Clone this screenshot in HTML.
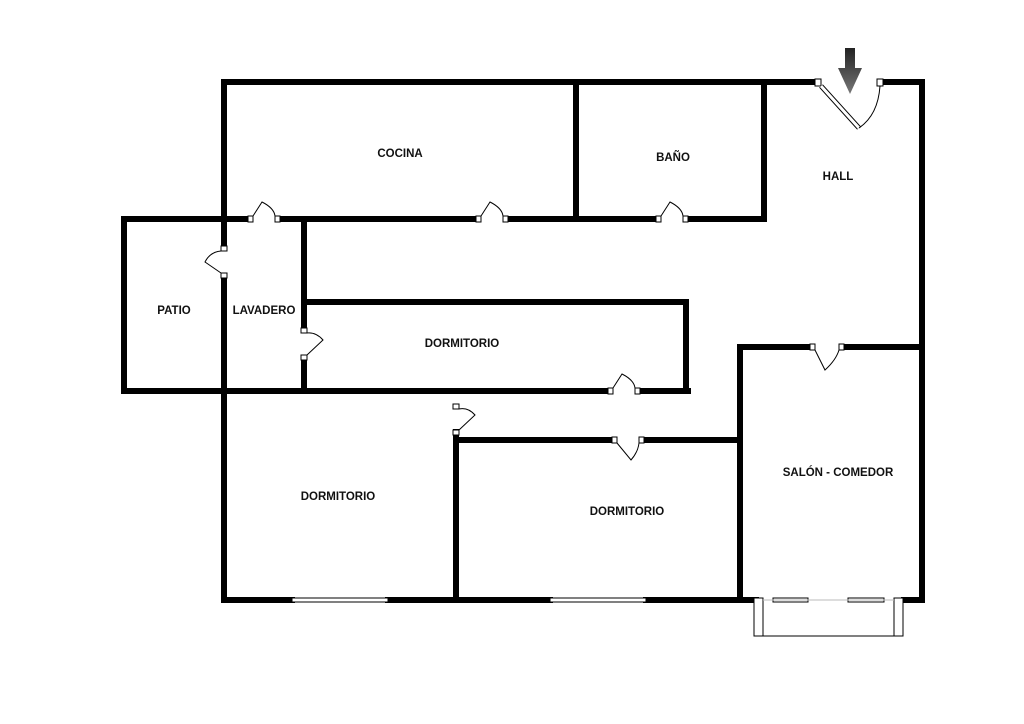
<!DOCTYPE html>
<html><head><meta charset="utf-8"><style>
html,body{margin:0;padding:0;background:#fff;}
svg{display:block}
text{font-family:"Liberation Sans",sans-serif;font-size:11.5px;font-weight:bold;fill:#111;text-anchor:middle}
</style></head><body>
<svg width="1024" height="724" viewBox="0 0 1024 724" xmlns="http://www.w3.org/2000/svg">
<g stroke="#000" stroke-width="6" fill="none" stroke-linecap="square">
<path d="M224 82 H818 M880 82 H922 V600"/>
<path d="M224 82 V248 M224 276 V600"/>
<path d="M576 82 V218 M764 82 V219"/>
<path d="M124 219 H250 M278 219 H478 M506 219 H658 M686 219 H764"/>
<path d="M124 219 V391"/>
<path d="M124 391 H608 M638 391 H688"/>
<path d="M304 219 V330 M304 358 V391"/>
<path d="M304 302 H686 V391"/>
<path d="M740 347 H812 M842 347 H922"/>
<path d="M740 347 V600"/>
<path d="M458 440 H614 M642 440 H740"/>
<path d="M456 432 V600"/>
<path d="M224 600 H292 M388 600 H550 M646 600 H756 M904 600 H922"/>
</g>
<g stroke="#000" stroke-width="1" fill="#fff">
<rect x="292" y="598" width="96" height="4"/>
<rect x="550" y="598" width="96" height="4"/>
<rect x="754" y="598" width="9" height="38"/>
<rect x="894" y="598" width="9" height="38"/>
<line x1="763" y1="636" x2="894" y2="636"/>
<rect x="773" y="598" width="35" height="4"/>
<rect x="848" y="598" width="36" height="4"/>
<line x1="763" y1="600" x2="894" y2="600" stroke="#bbb"/>
</g>
<g stroke="#000" stroke-width="1" fill="#fff">
<rect x="815" y="79" width="6" height="7"/><rect x="877" y="79" width="6" height="7"/>
<path d="M821 86 L859 128" stroke-width="5" stroke="#000"/>
<path d="M821 86 L859 128" stroke-width="3" stroke="#fff"/>
<path d="M880 86 Q878 115 859 128" fill="none"/>
<g id="d1">
<rect x="248" y="216" width="5" height="6"/><rect x="275" y="216" width="5" height="6"/>
<path d="M253 216 L262 202 Q274 208 275 216" fill="#fff"/>
</g>
<use href="#d1" x="228"/>
<use href="#d1" x="408"/>
<use href="#d1" x="360" y="172"/>
<rect x="221" y="246" width="6" height="5"/><rect x="221" y="273" width="6" height="5"/>
<path d="M221 273 L205 262 Q210 252 221 251" fill="#fff"/>
<rect x="301" y="328" width="6" height="5"/><rect x="301" y="355" width="6" height="5"/>
<path d="M307 355 L323 340 Q316 332 307 333" fill="#fff"/>
<rect x="453" y="404" width="6" height="5"/><rect x="453" y="430" width="6" height="5"/>
<path d="M459 430 L475 415 Q468 407 459 409" fill="#fff"/>
<rect x="810" y="344" width="5" height="6"/><rect x="839" y="344" width="5" height="6"/>
<path d="M815 350 L825 370 Q836 360 839 350" fill="#fff"/>
<rect x="612" y="437" width="5" height="6"/><rect x="639" y="437" width="5" height="6"/>
<path d="M617 443 L631 460 Q638 452 639 443" fill="#fff"/>
</g>
<defs><linearGradient id="g" x1="0" y1="0" x2="0" y2="1"><stop offset="0" stop-color="#222"/><stop offset="1" stop-color="#777"/></linearGradient></defs>
<path d="M845 48 H855 V68 H862 L850 94 L838 68 H845 Z" fill="url(#g)"/>
<text x="400" y="157">COCINA</text>
<text x="673" y="161">BAÑO</text>
<text x="838" y="180">HALL</text>
<text x="174" y="314">PATIO</text>
<text x="264" y="314">LAVADERO</text>
<text x="462" y="347">DORMITORIO</text>
<text x="338" y="500">DORMITORIO</text>
<text x="627" y="515">DORMITORIO</text>
<text x="838" y="476">SALÓN - COMEDOR</text>
</svg>
</body></html>
